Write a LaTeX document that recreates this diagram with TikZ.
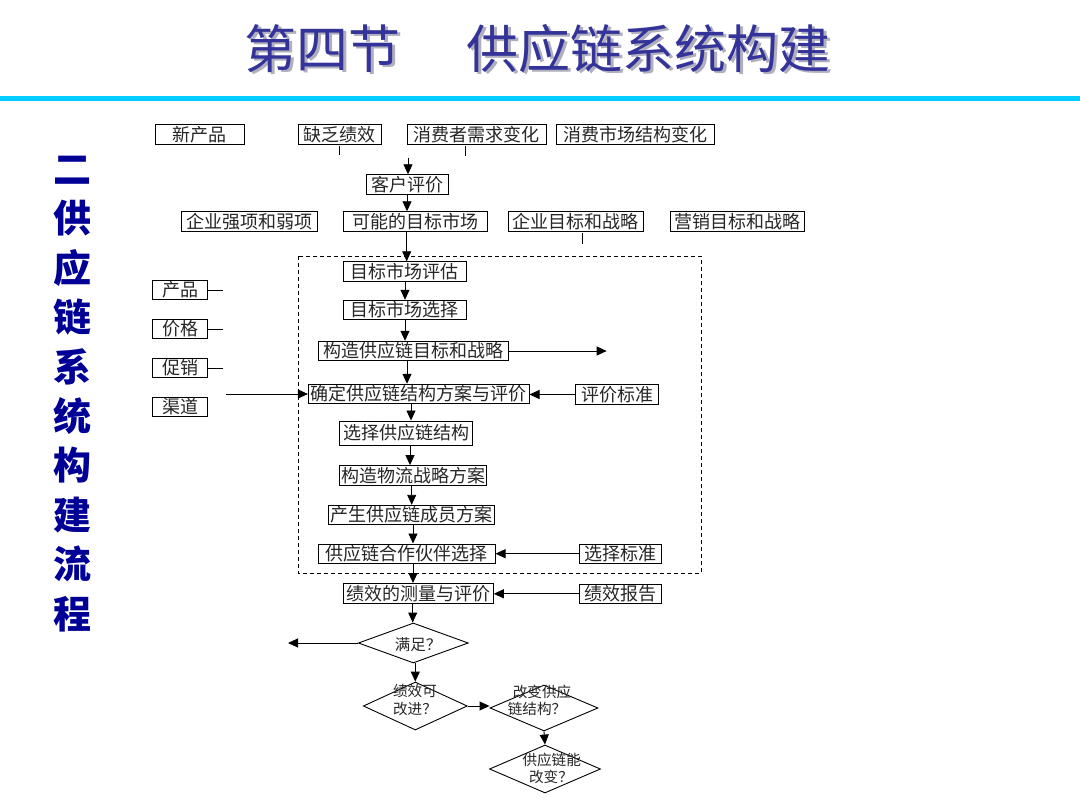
\documentclass[tikz,border=0pt]{standalone}
\usepackage{fontspec}
\newfontfamily\cjk{Noto Sans CJK SC}
\usetikzlibrary{arrows.meta,shapes.geometric}
\definecolor{titleblue}{RGB}{51,51,153}
\definecolor{navy}{RGB}{0,0,150}
\definecolor{cyanline}{RGB}{0,204,255}
\definecolor{shadowgray}{RGB}{175,175,190}
\begin{document}
\begin{tikzpicture}[x=1pt,y=-1pt,
  box/.style={draw=black, line width=0.9pt, inner sep=0pt, minimum height=19.5pt, font=\cjk\fontsize{18}{18}\selectfont, text=black!85},
  arr/.style={-{Triangle[length=10pt,width=9pt]}, line width=0.9pt},
  ln/.style={line width=0.9pt},
  dia/.style={draw, diamond, line width=0.9pt, inner sep=0pt},
  dtext/.style={font=\cjk\fontsize{14.6}{18}\selectfont, inner sep=0pt, text=black!85},
  ttl/.style={font=\cjk\fontsize{52}{52}\selectfont, inner sep=0pt}]
\useasboundingbox (0,0) rectangle (1080,810);
\fill[white] (0,0) rectangle (1080,810);
% title
\node[ttl, text=shadowgray] (t1s) at (325,51) {第四节};
\node[ttl, text=shadowgray] (t2s) at (651,51) {供应链系统构建};
\node[ttl, text=titleblue] (t1) at (322.5,48.5) {第四节};
\node[ttl, text=titleblue] (t2) at (648.5,48.5) {供应链系统构建};
\fill[cyanline] (0,96) rectangle (1080,101);
% side title
\node[font=\cjk\bfseries\fontsize{38}{49.4}\selectfont, text=navy, align=center, inner sep=0pt] (side) at (72,394) {二\\供\\应\\链\\系\\统\\构\\建\\流\\程};
% row 1
\node[box, minimum width=89pt] (np) at (199.5,134.5) {新产品};
\node[box, minimum width=83pt] (qj) at (339.5,134.5) {缺乏绩效};
\node[box, minimum width=139pt] (xq) at (476.5,134.5) {消费者需求变化};
\node[box, minimum width=158pt] (xs) at (635,134.5) {消费市场结构变化};
\coordinate (t1a) at (339.5,146); \coordinate (t1b) at (339.5,155.5);
\coordinate (t2a) at (465,146); \coordinate (t2b) at (465,156);
\draw[ln] (t1a) -- (t1b);
\draw[ln] (t2a) -- (t2b);
\coordinate (ka) at (408,158);
\node[box, minimum width=82pt] (kh) at (407,184.5) {客户评价};
\draw[arr] (ka) -- (ka |- kh.north);
% row 2
\node[box, minimum width=136pt] (qy) at (249,221.5) {企业强项和弱项};
\node[box, minimum width=144pt] (km) at (415,221.5) {可能的目标市场};
\node[box, minimum width=135pt] (qm) at (575.5,221.5) {企业目标和战略};
\node[box, minimum width=134pt] (yx) at (737,221.5) {营销目标和战略};
\draw[arr] (kh.south) -- (kh.south |- km.north);
\coordinate (t3a) at (582,233); \coordinate (t3b) at (582,244.5);
\draw[ln] (t3a) -- (t3b);
% dashed frame
\draw[ln, dash pattern=on 4pt off 3pt] (298,256) rectangle (701,573);
% main chain
\node[box, minimum width=123pt] (a1) at (404.5,271.5) {目标市场评估};
\node[box, minimum width=123pt] (a2) at (404.5,310) {目标市场选择};
\node[box, minimum width=190pt] (a3) at (413.3,351) {构造供应链目标和战略};
\node[box, minimum width=220.7pt] (a4) at (418.7,394) {确定供应链结构方案与评价};
\node[box, minimum width=133pt, minimum height=24pt] (a5) at (406,433) {选择供应链结构};
\node[box, minimum width=147pt] (a6) at (413,475.3) {构造物流战略方案};
\node[box, minimum width=166pt] (a7) at (411.3,515) {产生供应链成员方案};
\node[box, minimum width=176.7pt] (a8) at (406.7,553.7) {供应链合作伙伴选择};
\node[box, minimum width=150pt] (a9) at (418.3,593.2) {绩效的测量与评价};
\node[box, minimum width=82.6pt] (pj) at (617,394.5) {评价标准};
\node[box, minimum width=82pt] (xz) at (620,553.7) {选择标准};
\node[box, minimum width=82pt] (jb) at (620,593.8) {绩效报告};
% spine x positions
\coordinate (s0) at (406.7,0);
\coordinate (s1) at (405,0);
\coordinate (s2) at (405,0);
\coordinate (s3) at (407,0);
\coordinate (s4) at (411,0);
\coordinate (s5) at (410,0);
\coordinate (s6) at (411.7,0);
\coordinate (s7) at (413,0);
\coordinate (s8) at (413,0);
\coordinate (s9) at (412.7,0);
\draw[arr] (km.south -| s0) -- (a1.north -| s0);
\draw[arr] (a1.south -| s1) -- (a2.north -| s1);
\draw[arr] (a2.south -| s2) -- (a3.north -| s2);
\draw[arr] (a3.south -| s3) -- (a4.north -| s3);
\draw[arr] (a4.south -| s4) -- (a5.north -| s4);
\draw[arr] (a5.south -| s5) -- (a6.north -| s5);
\draw[arr] (a6.south -| s6) -- (a7.north -| s6);
\draw[arr] (a7.south -| s7) -- (a8.north -| s7);
\draw[arr] (a8.south -| s8) -- (a9.north -| s8);
% side arrows
\coordinate (ra) at (606.7,351);
\draw[arr] (a3.east) -- (ra);
\draw[arr] (pj.west) -- (pj.west -| a4.east);
\draw[arr] (xz.west) -- (xz.west -| a8.east);
\draw[arr] (jb.west) -- (jb.west -| a9.east);
% left inputs
\node[box, minimum width=55pt] (cp) at (180.3,290) {产品};
\node[box, minimum width=55pt] (jg) at (180.3,329) {价格};
\node[box, minimum width=55pt] (cx) at (180.3,368) {促销};
\node[box, minimum width=55pt] (qd) at (180.3,407) {渠道};
\coordinate (cpE) at (223.3,290); \coordinate (jgE) at (223.3,329); \coordinate (cxE) at (223.3,368);
\draw[ln] (cp.east) -- (cpE);
\draw[ln] (jg.east) -- (jgE);
\draw[ln] (cx.east) -- (cxE);
\coordinate (qdS) at (226,394);
\draw[arr] (qdS) -- (a4.west);
% decisions
\node[dia, minimum width=110pt, minimum height=40pt] (q1) at (413.3,643) {};
\node[dia, minimum width=104pt, minimum height=48pt] (q2) at (415.3,706) {};
\node[dia, minimum width=108pt, minimum height=46pt] (q3) at (544,708) {};
\node[dia, minimum width=111pt, minimum height=48pt] (q4) at (545,769) {};
\node[dtext, font=\cjk\fontsize{15.5}{18}\selectfont] (q1t) at (418,645) {满足？};
\node[dtext] (q2a) at (415,691) {绩效可};
\node[dtext] (q2b) at (415,709.3) {改进？};
\node[dtext] (q3a) at (542,691.7) {改变供应};
\node[dtext] (q3b) at (537,709.3) {链结构？};
\node[dtext] (q4a) at (551.7,760) {供应链能};
\node[dtext] (q4b) at (551,776.5) {改变？};
\draw[arr] (a9.south -| s9) -- (q1.north -| s9);
\coordinate (qL) at (288,643);
\draw[arr] (q1.west) -- (qL);
\draw[arr] (q1.south -| q2.north) -- (q2.north);
\draw[arr] (q2.east) -- (q2.east -| q3.west);
\draw[arr] (q3.south) -- (q4.north);
\end{tikzpicture}
\end{document}
